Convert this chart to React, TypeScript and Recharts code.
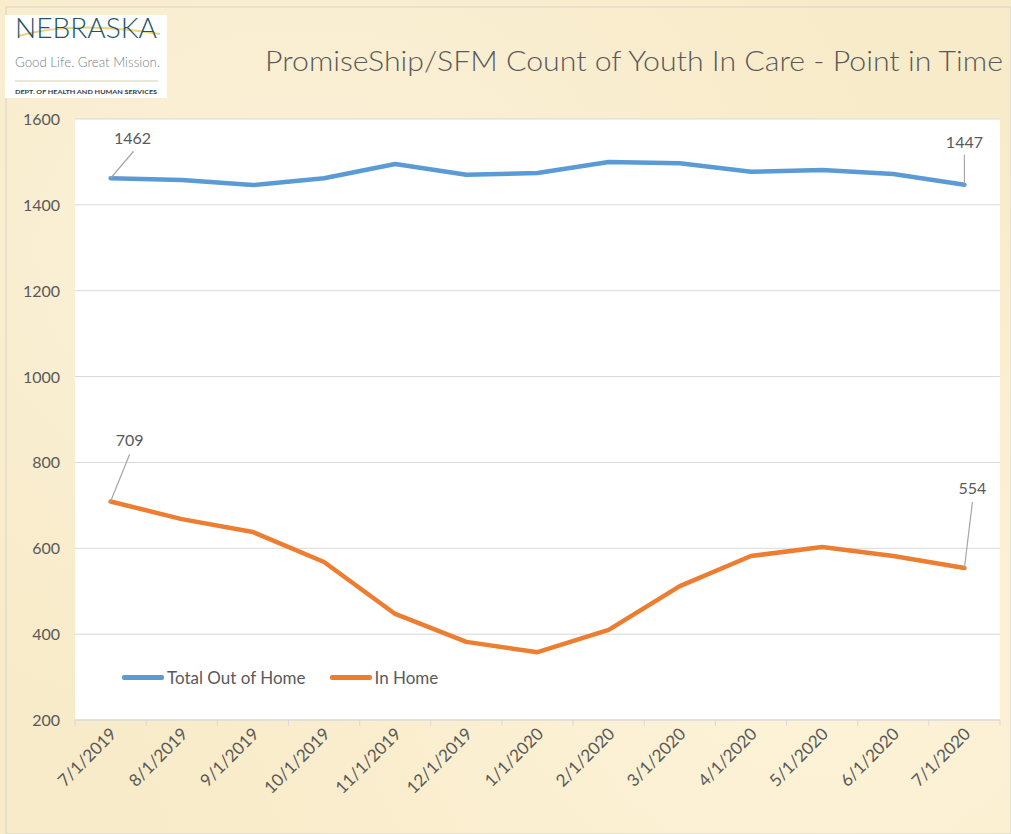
import React from 'react';
import { LineChart, Line, XAxis, YAxis, CartesianGrid } from 'recharts';

const categories = ['7/1/2019', '8/1/2019', '9/1/2019', '10/1/2019', '11/1/2019', '12/1/2019', '1/1/2020', '2/1/2020', '3/1/2020', '4/1/2020', '5/1/2020', '6/1/2020', '7/1/2020'];
const totalOutOfHome = [1462, 1458, 1446, 1462, 1495, 1470, 1474, 1500, 1497, 1477, 1481, 1472, 1447];
const inHome = [709, 668, 638, 568, 447, 382, 358, 410, 512, 582, 603, 582, 554];
const yTicks = [200, 400, 600, 800, 1000, 1200, 1400, 1600];

const data = categories.map((c, i) => ({ date: c, total: totalOutOfHome[i], inHome: inHome[i] }));

const W = 1011;
const H = 834;
const PLOT_LEFT = 75;
const PLOT_RIGHT = 1000;
const PLOT_TOP = 119;
const PLOT_BOTTOM = 720;
const HALF_BAND = (PLOT_RIGHT - PLOT_LEFT) / categories.length / 2;
const TEXT = '#595959';
const FONT = 'Lato, "Open Sans", sans-serif';

// label placement (offsets relative to the point): [textDx, baselineDy, leaderDx, leaderDy]
const blueLabelOffsets: Record<number, number[]> = { 0: [22, -34, 23, -27], 12: [0, -37, 0, -30] };
const orangeLabelOffsets: Record<number, number[]> = { 0: [19, -55, 19, -47], 12: [8, -74, 8, -66] };

const makeLabel = (offsets: Record<number, number[]>) => (props: any) => {
  const { x, y, value, index } = props;
  const o = offsets[index];
  if (!o) return null;
  return (
    <g>
      <line x1={x} y1={y} x2={x + o[2]} y2={y + o[3]} stroke="#a6a6a6" strokeWidth={1.2} />
      <text x={x + o[0]} y={y + o[1]} textAnchor="middle" fontSize={16} fill={TEXT} fontFamily={FONT}>
        {value}
      </text>
    </g>
  );
};

const XTick = (props: any) => {
  const { x, y, payload, index } = props;
  return (
    <g>
      <line x1={x - HALF_BAND} x2={x - HALF_BAND} y1={PLOT_BOTTOM} y2={PLOT_BOTTOM + 6} stroke="#d9d9d9" strokeWidth={1} />
      {index === categories.length - 1 && (
        <line x1={x + HALF_BAND} x2={x + HALF_BAND} y1={PLOT_BOTTOM} y2={PLOT_BOTTOM + 6} stroke="#d9d9d9" strokeWidth={1} />
      )}
      <text
        transform={`translate(${x + 7},${y + 15}) rotate(-45)`}
        textAnchor="end"
        fontSize={17}
        fill={TEXT}
        fontFamily={FONT}
      >
        {payload.value}
      </text>
    </g>
  );
};

const YTick = (props: any) => {
  const { x, y, payload } = props;
  return (
    <text x={x} y={y} dy={6} textAnchor="end" fontSize={16} fill={TEXT} fontFamily={FONT}>
      {payload.value}
    </text>
  );
};

export default function App() {
  return (
    <div
      style={{
        position: 'absolute',
        left: 0,
        top: 0,
        width: W,
        height: H,
        overflow: 'hidden',
        background:
          'radial-gradient(ellipse at 30% 30%, #fbf1d9 0%, rgba(251,241,217,0) 60%), radial-gradient(ellipse at 80% 80%, #fdf3d8 0%, rgba(253,243,216,0) 60%), #f8ebc9',
      }}
    >
      <svg width={W} height={H} style={{ position: 'absolute', left: 0, top: 0 }}>
        <rect x={6} y={7} width={W - 6} height={H - 7} fill="none" stroke="#d8d4c8" strokeWidth={1} />
        {/* logo */}
        <rect x={5} y={15} width={162} height={83} fill="#ffffff" />
        <path d="M 18 36 Q 75 20 160 34" fill="none" stroke="#e6c75a" strokeWidth={2} opacity={0.8} />
        <text x={15} y={38} fontSize={27} fill="#1f5565" fontFamily={FONT} fontWeight={300} textLength={142} lengthAdjust="spacingAndGlyphs">
          NEBRASKA
        </text>
        <text x={15} y={67} fontSize={13.5} fill="#6f8288" fontFamily={FONT} fontWeight={300} textLength={145} lengthAdjust="spacingAndGlyphs">
          Good Life. Great Mission.
        </text>
        <line x1={15} y1={81} x2={158} y2={81} stroke="#d6cfae" strokeWidth={1} />
        <text x={15} y={94} fontSize={6} fill="#2c3e48" fontFamily={FONT} fontWeight={700} textLength={142} lengthAdjust="spacingAndGlyphs">
          DEPT. OF HEALTH AND HUMAN SERVICES
        </text>
        {/* title */}
        <text x={265} y={71} fontSize={27} fill={TEXT} fontFamily={FONT} fontWeight={300} textLength={738} lengthAdjust="spacingAndGlyphs">
          PromiseShip/SFM Count of Youth In Care - Point in Time
        </text>
      </svg>
      <div style={{ position: 'absolute', left: 0, top: 0 }}>
        <LineChart
          width={W}
          height={H}
          data={data}
          margin={{ top: PLOT_TOP, right: W - PLOT_RIGHT, bottom: 0, left: 0 }}
        >
          <CartesianGrid vertical={false} stroke="#d9d9d9" fill="#ffffff" fillOpacity={1} />
          <XAxis
            dataKey="date"
            height={H - PLOT_BOTTOM}
            padding={{ left: HALF_BAND, right: HALF_BAND }}
            interval={0}
            tickLine={false}
            tickSize={0}
            tickMargin={0}
            axisLine={{ stroke: '#d9d9d9' }}
            tick={<XTick />}
          />
          <YAxis
            width={PLOT_LEFT}
            domain={[200, 1600]}
            ticks={yTicks}
            interval={0}
            axisLine={false}
            tickLine={false}
            tickSize={0}
            tickMargin={15}
            tick={<YTick />}
          />
          <Line
            type="linear"
            dataKey="total"
            name="Total Out of Home"
            stroke="#5b9bd5"
            strokeWidth={4.5}
            strokeLinecap="round"
            strokeLinejoin="round"
            dot={false}
            isAnimationActive={false}
            label={makeLabel(blueLabelOffsets)}
          />
          <Line
            type="linear"
            dataKey="inHome"
            name="In Home"
            stroke="#ed7d31"
            strokeWidth={4.5}
            strokeLinecap="round"
            strokeLinejoin="round"
            dot={false}
            isAnimationActive={false}
            label={makeLabel(orangeLabelOffsets)}
          />
        </LineChart>
      </div>
      {/* legend */}
      <div
        style={{
          position: 'absolute',
          left: 122,
          top: 667,
          display: 'flex',
          alignItems: 'center',
          fontFamily: FONT,
          fontSize: 17,
          color: TEXT,
          whiteSpace: 'nowrap',
        }}
      >
        <span style={{ display: 'inline-block', width: 42, height: 4.5, borderRadius: 2, background: '#5b9bd5', marginRight: 3 }} />
        <span style={{ marginRight: 24 }}>Total Out of Home</span>
        <span style={{ display: 'inline-block', width: 42, height: 4.5, borderRadius: 2, background: '#ed7d31', marginRight: 3 }} />
        <span>In Home</span>
      </div>
    </div>
  );
}
